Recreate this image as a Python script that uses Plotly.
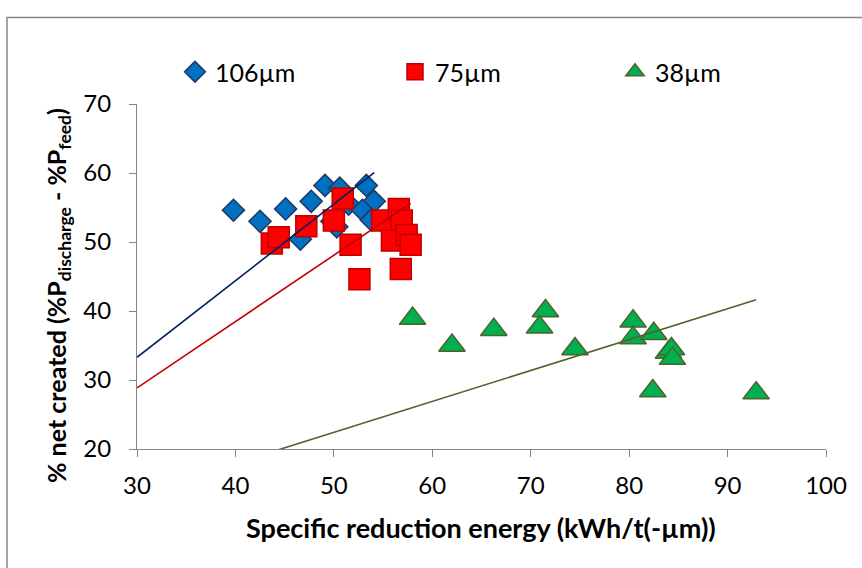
import numpy as np
import plotly.graph_objects as go

# ---- data ----
series_names = ["106µm", "75µm", "38µm"]

x_106 = [39.8, 42.5, 45.1, 46.6, 47.7, 49.1, 50.6, 49.8, 51.5, 53.3, 54.1, 52.9, 53.8, 50.3]
y_106 = [54.6, 53.0, 54.8, 50.4, 55.9, 58.2, 57.8, 53.0, 55.5, 58.2, 55.9, 54.6, 53.2, 52.2]

x_75 = [43.7, 44.4, 47.2, 50.0, 50.9, 51.7, 52.6, 54.9, 56.6, 56.9, 55.9, 57.4, 57.8, 56.8]
y_75 = [49.8, 50.7, 52.3, 53.1, 56.3, 49.6, 44.6, 53.1, 54.8, 53.1, 50.2, 51.0, 49.6, 46.1]

x_38 = [58.0, 62.0, 66.25, 71.5, 70.9, 74.5, 80.4, 80.4, 82.5, 84.0, 84.3, 84.4, 82.4, 92.9]
y_38 = [38.9, 35.0, 37.3, 40.0, 37.65, 34.5, 38.5, 36.1, 36.7, 34.0, 34.5, 33.1, 28.4, 28.1]

x_ticks = [30, 40, 50, 60, 70, 80, 90, 100]
y_ticks = [20, 30, 40, 50, 60, 70]
x_range = [30, 100]
y_range = [20, 70]

x_title = "Specific reduction energy (kWh/t(-µm))"
y_title = "% net created (%P<sub>discharge</sub> - %P<sub>feed</sub>)"

# ---- styles ----
FONT = "Lato, Liberation Sans, sans-serif"
styles = [
    dict(symbol="diamond", size=17, fill="#0070C0", edge="#1F3864", line="#002060"),
    dict(symbol="square", size=21, fill="#FF0000", edge="#C00000", line="#C00000"),
    dict(symbol="triangle-up", size=23, fill="#00B050", edge="#4F6228", line="#4F6228"),
]
data = [(x_106, y_106), (x_75, y_75), (x_38, y_38)]

fig = go.Figure()
for name, (xs, ys), st in zip(series_names, data, styles):
    fig.add_trace(go.Scatter(
        x=xs, y=ys, mode="markers", name=name,
        marker=dict(symbol=st["symbol"], size=st["size"], color=st["fill"],
                    line=dict(color=st["edge"], width=1.5)),
    ))

# trendlines: linear fit with intercept forced to zero (Excel style), forecast back to x=30
for (xs, ys), st in zip(data, styles):
    xa, ya = np.array(xs), np.array(ys)
    slope = float((xa * ya).sum() / (xa * xa).sum())
    xl = np.array([x_range[0], xa.max()])
    fig.add_trace(go.Scatter(
        x=xl, y=slope * xl, mode="lines", showlegend=False, hoverinfo="skip",
        line=dict(color=st["line"], width=1.6),
    ))

W, H = 862, 568
L, R, T, B = 137, 36, 104, 119
pw, ph = W - L - R, H - T - B

def px_x(p):
    return (p - L) / pw

def px_y(p):
    return (H - B - p) / ph

fig.update_layout(
    width=W, height=H,
    margin=dict(l=L, r=R, t=T, b=B, autoexpand=False),
    paper_bgcolor="white", plot_bgcolor="white",
    font=dict(family=FONT, size=23, color="black"),
    showlegend=True,
    legend=dict(orientation="h", x=px_x(175), y=px_y(72), xanchor="left", yanchor="middle",
                entrywidth=175, entrywidthmode="pixels", itemwidth=30,
                font=dict(family=FONT, size=25), bgcolor="rgba(0,0,0,0)",
                tracegroupgap=0),
    xaxis=dict(range=x_range, tickvals=x_ticks, showgrid=False, zeroline=False,
               showline=True, linecolor="#868686", linewidth=1.2,
               ticks="outside", ticklen=7, tickcolor="#868686", tickwidth=1.2,
               ticklabelstandoff=8,
               tickfont=dict(family=FONT, size=24), fixedrange=True),
    yaxis=dict(range=y_range, tickvals=y_ticks, showgrid=False, zeroline=False,
               showline=True, linecolor="#868686", linewidth=1.2,
               ticks="outside", ticklen=7, tickcolor="#868686", tickwidth=1.2,
               ticklabelstandoff=13,
               tickfont=dict(family=FONT, size=24), fixedrange=True),
    annotations=[
        dict(text="<b>" + x_title + "</b>", xref="paper", yref="paper",
             x=px_x(481), y=px_y(527), showarrow=False, xanchor="center", yanchor="middle",
             font=dict(family=FONT, size=27)),
        dict(text="<b>" + y_title + "</b>", xref="paper", yref="paper",
             x=px_x(58), y=px_y(296), showarrow=False, xanchor="center", yanchor="middle",
             textangle=-90, font=dict(family=FONT, size=25)),
    ],
    shapes=[
        dict(type="rect", xref="paper", yref="paper",
             x0=px_x(7), x1=px_x(870), y0=px_y(580), y1=px_y(17.5),
             line=dict(color="#868686", width=1.5), fillcolor="rgba(0,0,0,0)", layer="below"),
    ],
)

fig.write_html("out.html")
